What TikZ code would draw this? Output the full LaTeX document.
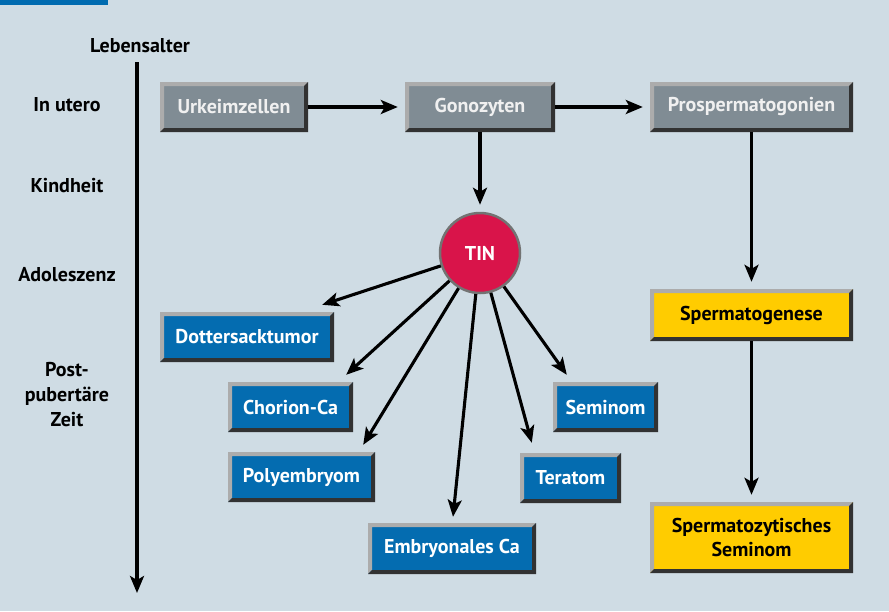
\documentclass[tikz,border=0pt]{standalone}
\usepackage{fontspec}
\setmainfont{PT Sans}
\usepackage{tikz}
\usetikzlibrary{calc,arrows.meta}
\definecolor{bgblue}{RGB}{207,220,228}
\definecolor{barblue}{RGB}{0,107,176}
\definecolor{boxgray}{RGB}{128,140,148}
\definecolor{boxblue}{RGB}{4,108,176}
\definecolor{boxyellow}{RGB}{255,204,0}
\definecolor{bevlight}{RGB}{172,172,172}
\definecolor{bevdark}{RGB}{50,50,50}
\definecolor{tinred}{RGB}{217,20,74}

\begin{document}
\begin{tikzpicture}[x=1pt,y=-1pt,
    font=\fontsize{20}{24}\selectfont\bfseries,
    >={Stealth[length=17pt,width=14pt,inset=4pt]},
    arr/.style={->, line width=3.1pt, shorten >=7pt},
    bevel/.style={inner sep=0pt, align=center, path picture={
      \fill[bevlight] (path picture bounding box.south west) -- (path picture bounding box.north west)
        -- (path picture bounding box.north east) -- ([shift={(-4pt,-4pt)}]path picture bounding box.north east)
        -- ([shift={(4pt,-4pt)}]path picture bounding box.north west) -- ([shift={(4pt,4pt)}]path picture bounding box.south west) -- cycle;
      \fill[bevdark] (path picture bounding box.south west) -- (path picture bounding box.south east)
        -- (path picture bounding box.north east) -- ([shift={(-4pt,-4pt)}]path picture bounding box.north east)
        -- ([shift={(-4pt,4pt)}]path picture bounding box.south east) -- ([shift={(4pt,4pt)}]path picture bounding box.south west) -- cycle;
    }},
    cellbox/.style={bevel, fill=boxgray, text=white!94!black, minimum height=50pt},
    tumorbox/.style={bevel, fill=boxblue, text=white, minimum height=50pt},
    normbox/.style={bevel, fill=boxyellow, text=black, minimum height=52pt},
    agelabel/.style={align=center, text=black}]

      \fill[bgblue] (0,0) rectangle (889,611);
      \fill[barblue] (0,0) rectangle (108,5);

      % age axis
      \node[agelabel] (lebensalter) at (140,46) {Lebensalter};
      \coordinate (axtop) at (137,62);
      \coordinate (axbot) at (137,593);
      \draw[->, line width=3.1pt] (axtop) -- (axbot);
      \node[agelabel] (utero) at (67,105) {In utero};
      \node[agelabel] (kindheit) at (67,186) {Kindheit};
      \node[agelabel] (adoleszenz) at (67,275) {Adoleszenz};
      \node[agelabel, font=\fontsize{20}{25}\selectfont\bfseries] (postpub) at (67,395) {Post-\\pubert\"are\\Zeit};

      % germ cell line
      \node[cellbox, minimum width=148pt] (urkeim) at (234,107) {Urkeimzellen};
      \node[cellbox, minimum width=150pt] (gono) at (480,107) {Gonozyten};
      \node[cellbox, minimum width=203pt] (prosperm) at (751.5,107) {Prospermatogonien};
      \draw[arr] (urkeim) -- (gono);
      \draw[arr] (gono) -- (prosperm);

      \node[circle, fill=tinred, draw=black!55, line width=2.5pt, minimum size=80pt, text=white] (tin) at (480,253) {TIN};
      \draw[arr] (gono) -- (tin);

      % tumours
      \node[tumorbox, minimum width=174pt] (dotter) at (247,337) {Dottersacktumor};
      \node[tumorbox, minimum width=125pt] (chorion) at (290.5,407) {Chorion-Ca};
      \node[tumorbox, minimum width=147pt] (poly) at (301.5,477) {Polyembryom};
      \node[tumorbox, minimum width=168pt, minimum height=51pt] (embryo) at (452,548.5) {Embryonales Ca};
      \node[tumorbox, minimum width=101pt] (teratom) at (570.5,478) {Teratom};
      \node[tumorbox, minimum width=105pt] (seminom) at (605.5,407) {Seminom};

      \draw[arr, shorten >=0pt] (tin) -- ($(dotter.north east)+(-12,-7)$);
      \draw[arr, shorten >=0pt] (tin) -- ($(chorion.north east)+(-7,-7)$);
      \draw[arr, shorten >=0pt] (tin) -- ($(poly.north east)+(-12,-7)$);
      \draw[arr, shorten >=0pt] (tin) -- ($(embryo.north)+(1,-6)$);
      \draw[arr, shorten >=0pt] (tin) -- ($(teratom.north west)+(12,-10)$);
      \draw[arr, shorten >=0pt] (tin) -- ($(seminom.north west)+(14,-7)$);

      % spermatogenesis
      \node[normbox, minimum width=203pt] (spermgen) at (751.5,315) {Spermatogenese};
      \node[normbox, minimum width=203pt, minimum height=71pt] (spermzyt) at (751.5,537.5) {Spermatozytisches\\Seminom};
      \draw[arr] (prosperm) -- (spermgen);
      \draw[arr] (spermgen) -- (spermzyt);
\end{tikzpicture}
\end{document}
